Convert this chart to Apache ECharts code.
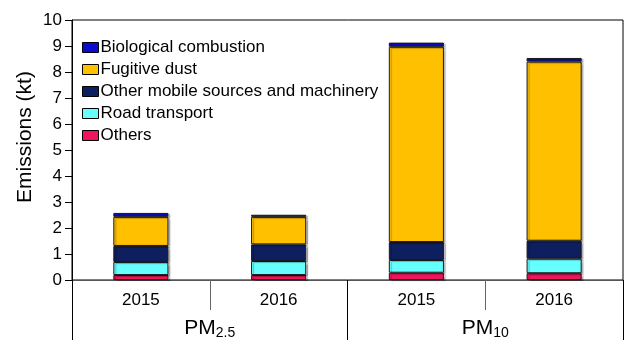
<!DOCTYPE html>
<html>
<head>
<meta charset="utf-8">
<script src="https://cdn.jsdelivr.net/npm/echarts@6/dist/echarts.min.js"></script>
<style>html,body{margin:0;padding:0;background:#fff;}#c{width:630px;height:355px;}</style>
</head>
<body>
<div id="c"></div>
<script>
const years = ['2015', '2016', '2015', '2016'];
const groups = ['PM{sub|2.5}', 'PM{sub|10}'];
const yTicks = [0, 10, 1];
const others = [0.19, 0.19, 0.28, 0.26];
const roadTransport = [0.50, 0.54, 0.49, 0.56];
const otherMobile = [0.62, 0.64, 0.69, 0.69];
const fugitiveDust = [1.12, 1.06, 7.51, 6.89];
const biological = [0.15, 0.08, 0.16, 0.14];

const FONT = '"Liberation Sans", Arial, sans-serif';
const chart = echarts.init(document.getElementById('c'), null, {renderer: 'canvas'});
const barStyle = (c) => ({color: c, borderColor: '#1a1a1a', borderWidth: 1,
  shadowColor: 'rgba(0,0,0,0.25)', shadowOffsetX: 2, shadowOffsetY: 1, shadowBlur: 1});
const mk = (name, data, color) => ({
  name, type: 'bar', stack: 'a', data, barWidth: '40%', xAxisIndex: 0,
  itemStyle: barStyle(color), emphasis: {disabled: true}
});
chart.setOption({
  animation: false,
  textStyle: {fontFamily: FONT},
  grid: {left: 72, right: 7, top: 20, bottom: 75, show: true, borderColor: '#000', borderWidth: 1, backgroundColor: 'transparent'},
  legend: {
    orient: 'vertical', left: 77, top: 34, icon: 'rect',
    itemWidth: 16, itemHeight: 10, itemGap: 5,
    data: ['Biological combustion', 'Fugitive dust', 'Other mobile sources and machinery', 'Road transport', 'Others'],
    textStyle: {fontFamily: FONT, fontSize: 17, color: '#000', lineHeight: 17, padding: [0, 0, 0, -3]},
    itemStyle: {borderColor: '#000', borderWidth: 1}
  },
  xAxis: [
    {
      type: 'category', data: years, position: 'bottom',
      axisLine: {show: true, lineStyle: {color: '#555', width: 1}},
      axisTick: {show: true, length: 30, interval: 0, lineStyle: {color: '#666'}},
      axisLabel: {fontFamily: FONT, fontSize: 17, color: '#000', margin: 12}
    },
    {
      type: 'category', data: groups, position: 'bottom',
      axisLine: {show: false},
      axisTick: {show: true, length: 60, interval: 0, lineStyle: {color: '#000'}},
      axisLabel: {fontFamily: FONT, fontSize: 21, color: '#000', margin: 36,
        rich: {sub: {fontFamily: FONT, fontSize: 14, color: '#000', verticalAlign: 'bottom', padding: [10, 0, 0, 0]}}}
    }
  ],
  yAxis: {
    type: 'value', min: yTicks[0], max: yTicks[1], interval: yTicks[2],
    name: 'Emissions (kt)', nameLocation: 'middle', nameGap: 36, nameMoveOverlap: false,
    nameTextStyle: {fontFamily: FONT, fontSize: 21, color: '#000', padding: [0, 0, 0, 26]},
    axisLine: {show: true, lineStyle: {color: '#000'}},
    axisTick: {show: true, inside: false, length: 7, lineStyle: {color: '#000'}},
    axisLabel: {fontFamily: FONT, fontSize: 17, color: '#000', margin: 10},
    splitLine: {show: false}
  },
  series: [
    mk('Others', others, '#f0145c'),
    mk('Road transport', roadTransport, '#66ffff'),
    mk('Other mobile sources and machinery', otherMobile, '#0d1f5e'),
    mk('Fugitive dust', fugitiveDust, '#ffc000'),
    mk('Biological combustion', biological, '#0a0ad0')
  ]
});
</script>
</body>
</html>
